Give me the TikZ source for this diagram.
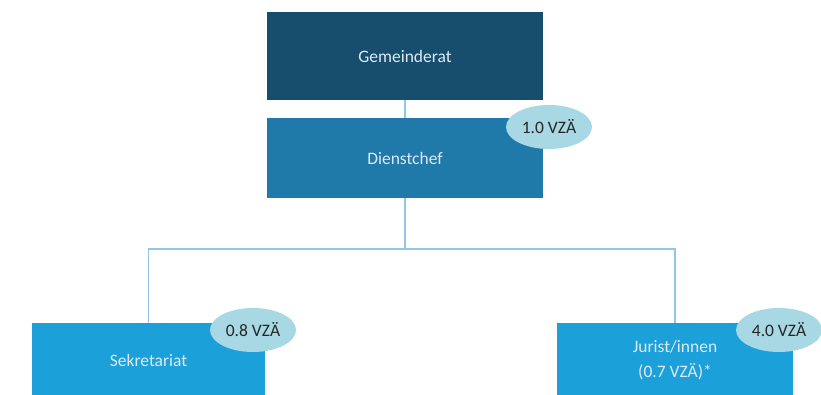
\documentclass[tikz,border=0pt]{standalone}
\usepackage{fontspec}
\setmainfont{Carlito}
\usetikzlibrary{shapes.geometric}

\definecolor{ratblue}{HTML}{174E6D}
\definecolor{chefblue}{HTML}{1F79A9}
\definecolor{unitblue}{HTML}{1BA0DA}
\definecolor{badgeblue}{HTML}{A8D8E3}
\definecolor{linkblue}{HTML}{92C5E9}
\definecolor{boxtext}{HTML}{DDEAF2}

\begin{document}
\begin{tikzpicture}[
    x=1pt,y=-1pt,
    orgbox/.style={rectangle, inner sep=0pt, text=boxtext, align=center,
      font=\fontsize{17.5}{25}\selectfont},
    badge/.style={ellipse, fill=badgeblue, inner sep=0pt,
      minimum width=86pt, minimum height=44pt, text=black!85,
      font=\fontsize{17.5}{21}\selectfont},
    link/.style={draw=linkblue, line width=1.6pt}
    ]
    \useasboundingbox (0, 0) rectangle (821, 395);
    \clip (0, 0) rectangle (821, 395);
    \fill[white] (0, 0) rectangle (821, 395);

    \node[orgbox, fill=ratblue, minimum width=276pt, minimum height=88pt]
      (gemeinderat) at (405, 56) {Gemeinderat};
    \node[orgbox, fill=chefblue, minimum width=276pt, minimum height=80pt]
      (dienstchef) at (405, 158) {Dienstchef};
    \node[orgbox, fill=unitblue, minimum width=233pt, minimum height=74pt]
      (sekretariat) at (148.5, 360) {Sekretariat};
    \node[orgbox, fill=unitblue, minimum width=236pt, minimum height=74pt]
      (juristen) at (675, 360) {Jurist/innen\\(0.7 VZÄ)*};

    \coordinate (branch) at (405, 249);
    \draw[link] (gemeinderat.south) -- (dienstchef.north);
    \draw[link] (dienstchef.south) -- (branch);
    \draw[link] (branch) -| (sekretariat.north);
    \draw[link] (branch) -| (juristen.north);

    \node[badge] (vzachef) at (549, 127) {1.0 VZÄ};
    \node[badge] (vzasek) at (253, 330) {0.8 VZÄ};
    \node[badge] (vzajur) at (779, 330) {4.0 VZÄ};
  \end{tikzpicture}
\end{document}
